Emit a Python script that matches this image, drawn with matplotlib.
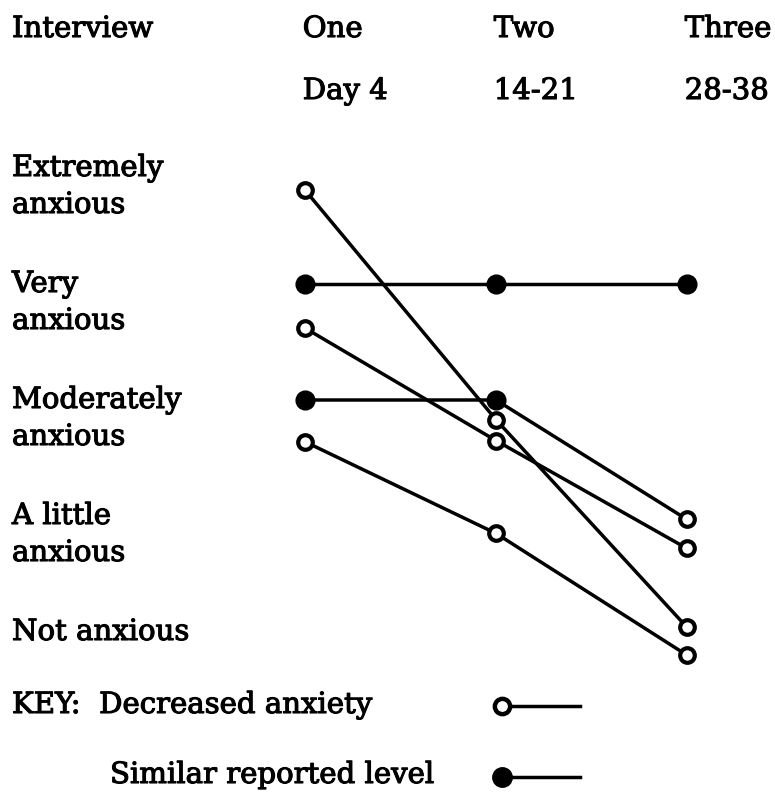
import matplotlib
matplotlib.use("Agg")
import matplotlib.pyplot as plt
import matplotlib.transforms as mtransforms
import matplotlib.patheffects as pe
from matplotlib.lines import Line2D

# ---- data ----
interviews = ["One", "Two", "Three"]
interview_days = ["Day 4", "14-21", "28-38"]
level_labels = ["Extremely\nanxious", "Very\nanxious", "Moderately\nanxious",
                "A little\nanxious", "Not anxious"]
level_values = [5, 4, 3, 2, 1]
x_pos = [1, 2, 3]
# each series: anxiety values at interviews One, Two, Three; marker fill per point
series_values = [
    [4.81, 2.83, 1.04],
    [4.00, 4.00, 4.00],
    [3.62, 2.65, 1.72],
    [3.00, 3.00, 1.97],
    [2.64, 1.85, 0.80],
]
series_filled = [
    [False, False, False],
    [True, True, True],
    [False, False, False],
    [True, True, False],
    [False, False, False],
]
key_labels = ["KEY:  Decreased anxiety", "Similar reported level"]

W, H = 775, 799
fig = plt.figure(figsize=(W / 100, H / 100), dpi=100)
ax = fig.add_axes([0, 0, 1, 1])
ax.set_xlim(1 - 305 / 191, 3 + (W - 687) / 191)
ax.set_ylim(1 - (H - 632) / 116, 1 + 632 / 116)
ax.axis("off")

FONT = "DejaVu Serif"
FS = 21
UNIT = 116.0  # pixels per level
BOLD = [pe.withStroke(linewidth=0.8, foreground="black")]

def fx(px):
    return px / W

def fy(py):
    return 1 - py / H

def txt(x, y, s, transform):
    ax.text(x, y, s, fontsize=FS, family=FONT, va="baseline", ha="left",
            transform=transform, path_effects=BOLD)

for vals, fills in zip(series_values, series_filled):
    ax.plot(x_pos, vals, color="black", lw=2.5, zorder=2, solid_capstyle="butt")
    for x, v, f in zip(x_pos, vals, fills):
        if f:
            ax.plot(x, v, "o", ms=13.5, mfc="black", mec="black", mew=1, zorder=3)
        else:
            ax.plot(x, v, "o", ms=10.5, mfc="white", mec="black", mew=3.0, zorder=3)

# header
txt(fx(12), fy(37), "Interview", fig.transFigure)
trans = mtransforms.blended_transform_factory(ax.transData, fig.transFigure)
for x, name, day in zip(x_pos, interviews, interview_days):
    txt(x - 0.012, fy(37), name, trans)
    txt(x - 0.012, fy(99), day, trans)

# level labels: first line baseline just below the level, second line below it
trans2 = mtransforms.blended_transform_factory(fig.transFigure, ax.transData)
for lab, v in zip(level_labels, level_values):
    for i, line in enumerate(lab.split("\n")):
        txt(fx(12), v - (8 + i * 37) / UNIT, line, trans2)

# key
key_y = [713, 783]
key_x = [12, 110]
key_mark_y = [706, 777]
key_fill = [False, True]
for lab, py, kx, my, f in zip(key_labels, key_y, key_x, key_mark_y, key_fill):
    txt(fx(kx), fy(py), lab, fig.transFigure)
    ln = Line2D([fx(502), fx(580)], [fy(my), fy(my)], color="black", lw=2.5,
                transform=fig.transFigure)
    fig.add_artist(ln)
    if f:
        mk = Line2D([fx(502)], [fy(my)], marker="o", ms=14, mfc="black", mec="black",
                    mew=1, transform=fig.transFigure)
    else:
        mk = Line2D([fx(502)], [fy(my)], marker="o", ms=11, mfc="white", mec="black",
                    mew=3.2, transform=fig.transFigure)
    fig.add_artist(mk)

fig.savefig("out.png", dpi=100, facecolor="white")
